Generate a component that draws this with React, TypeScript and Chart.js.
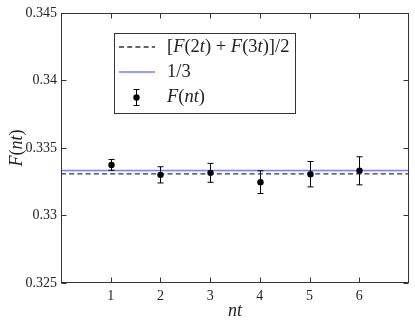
import React, { useEffect, useRef } from "react";
import { Chart, registerables } from "chart.js";

Chart.register(...registerables);

// ---- data ----
const nt = [1, 2, 3, 4, 5, 6];
const F = [0.33375, 0.33301, 0.33316, 0.33247, 0.33306, 0.33331];
const Ferr = [0.0004, 0.0006, 0.0007, 0.00084, 0.00094, 0.00104];
const avgValue = 0.333085; // [F(2t)+F(3t)]/2
const thirdValue = 1 / 3;
const xRange = [0, 7];
const yRange = [0.325, 0.345];
const xTicks = [1, 2, 3, 4, 5, 6];
const yTicks = [0.325, 0.33, 0.335, 0.34, 0.345];

const SERIF = "'Liberation Serif', 'DejaVu Serif', serif";
const TEXT = "#222";

type Seg = { t: string; it?: boolean };

function drawSegs(ctx: CanvasRenderingContext2D, segs: Seg[], x: number, y: number, size: number) {
  let cx = x;
  for (const s of segs) {
    ctx.font = `${s.it ? "italic " : ""}${size}px ${SERIF}`;
    ctx.fillText(s.t, cx, y);
    cx += ctx.measureText(s.t).width;
  }
  return cx;
}
function segsWidth(ctx: CanvasRenderingContext2D, segs: Seg[], size: number) {
  let w = 0;
  for (const s of segs) {
    ctx.font = `${s.it ? "italic " : ""}${size}px ${SERIF}`;
    w += ctx.measureText(s.t).width;
  }
  return w;
}

const decorPlugin = {
  id: "decor",
  afterDatasetsDraw(chart: any) {
    const ctx: CanvasRenderingContext2D = chart.ctx;
    const xs = chart.scales.x;
    const ys = chart.scales.y;
    const a = chart.chartArea;
    ctx.save();

    // error bars + markers
    ctx.strokeStyle = "#000";
    ctx.fillStyle = "#000";
    ctx.lineWidth = 1;
    for (let i = 0; i < nt.length; i++) {
      const px = Math.round(xs.getPixelForValue(nt[i])) + 0.5;
      const top = ys.getPixelForValue(F[i] + Ferr[i]);
      const bot = ys.getPixelForValue(F[i] - Ferr[i]);
      ctx.beginPath();
      ctx.moveTo(px, top);
      ctx.lineTo(px, bot);
      ctx.moveTo(px - 3, top);
      ctx.lineTo(px + 3, top);
      ctx.moveTo(px - 3, bot);
      ctx.lineTo(px + 3, bot);
      ctx.stroke();
      ctx.beginPath();
      ctx.arc(px, ys.getPixelForValue(F[i]), 3.2, 0, Math.PI * 2);
      ctx.fill();
    }

    // frame
    ctx.strokeStyle = "#333";
    ctx.lineWidth = 1;
    const L = Math.round(a.left) + 0.5, R = Math.round(a.right) - 0.5;
    const T = Math.round(a.top) + 0.5, B = Math.round(a.bottom) - 0.5;
    ctx.strokeRect(L, T, R - L, B - T);
    // ticks inward on all sides
    ctx.beginPath();
    for (const v of xTicks) {
      const px = Math.round(xs.getPixelForValue(v)) + 0.5;
      ctx.moveTo(px, B); ctx.lineTo(px, B - 5);
      ctx.moveTo(px, T); ctx.lineTo(px, T + 5);
    }
    for (const v of yTicks) {
      const py = Math.round(ys.getPixelForValue(v)) + 0.5;
      ctx.moveTo(L, py); ctx.lineTo(L + 5, py);
      ctx.moveTo(R, py); ctx.lineTo(R - 5, py);
    }
    ctx.stroke();

    // axis titles
    ctx.fillStyle = TEXT;
    ctx.textBaseline = "middle";
    const ySegs: Seg[] = [{ t: "F", it: true }, { t: "(" }, { t: "nt", it: true }, { t: ")" }];
    ctx.save();
    ctx.translate(17, (a.top + a.bottom) / 2);
    ctx.rotate(-Math.PI / 2);
    const yw = segsWidth(ctx, ySegs, 18);
    drawSegs(ctx, ySegs, -yw / 2, 0, 18);
    ctx.restore();
    const xSegs: Seg[] = [{ t: "nt", it: true }];
    const xw = segsWidth(ctx, xSegs, 18);
    drawSegs(ctx, xSegs, (a.left + a.right) / 2 - xw / 2, 311, 18);

    // legend
    const bx = 114.5, by = 33.5, bw = 181, bh = 80;
    ctx.fillStyle = "#fff";
    ctx.fillRect(bx, by, bw, bh);
    ctx.strokeStyle = "#333";
    ctx.lineWidth = 1;
    ctx.strokeRect(bx, by, bw, bh);
    const rows = [47, 72, 97.5];
    // row 1 dashed
    ctx.strokeStyle = "#333";
    ctx.lineWidth = 1.4;
    ctx.setLineDash([5, 3.2]);
    ctx.beginPath(); ctx.moveTo(119, rows[0]); ctx.lineTo(155, rows[0]); ctx.stroke();
    ctx.setLineDash([]);
    // row 2 blue
    ctx.strokeStyle = "#7b7bff";
    ctx.lineWidth = 1.6;
    ctx.beginPath(); ctx.moveTo(119, rows[1]); ctx.lineTo(155, rows[1]); ctx.stroke();
    // row 3 errorbar marker
    ctx.strokeStyle = "#000";
    ctx.fillStyle = "#000";
    ctx.lineWidth = 1;
    ctx.beginPath();
    ctx.moveTo(136.5, rows[2] - 8); ctx.lineTo(136.5, rows[2] + 8);
    ctx.moveTo(133.5, rows[2] - 8); ctx.lineTo(139.5, rows[2] - 8);
    ctx.moveTo(133.5, rows[2] + 8); ctx.lineTo(139.5, rows[2] + 8);
    ctx.stroke();
    ctx.beginPath(); ctx.arc(136.5, rows[2], 3.2, 0, Math.PI * 2); ctx.fill();

    ctx.fillStyle = TEXT;
    const fs = 18.5;
    drawSegs(ctx, [
      { t: "[" }, { t: "F", it: true }, { t: "(2" }, { t: "t", it: true }, { t: ") + " },
      { t: "F", it: true }, { t: "(3" }, { t: "t", it: true }, { t: ")]/2" },
    ], 167, rows[0], fs);
    drawSegs(ctx, [{ t: "1/3" }], 167, rows[1], fs);
    drawSegs(ctx, [{ t: "F", it: true }, { t: "(" }, { t: "nt", it: true }, { t: ")" }], 167, rows[2], fs);

    ctx.restore();
  },
};

export default function App() {
  const ref = useRef<HTMLCanvasElement | null>(null);
  useEffect(() => {
    if (!ref.current) return;
    const chart = new Chart(ref.current, {
      type: "scatter",
      data: {
        datasets: [
          {
            type: "line",
            label: "[F(2t)+F(3t)]/2",
            data: [{ x: xRange[0], y: avgValue }, { x: xRange[1], y: avgValue }],
            borderColor: "#333",
            borderWidth: 1.4,
            borderDash: [5, 3.2],
            pointRadius: 0,
            fill: false,
          },
          {
            type: "line",
            label: "1/3",
            data: [{ x: xRange[0], y: thirdValue }, { x: xRange[1], y: thirdValue }],
            borderColor: "#7b7bff",
            borderWidth: 1.6,
            pointRadius: 0,
            fill: false,
          },
        ],
      },
      options: {
        animation: false,
        responsive: false,
        devicePixelRatio: 1,
        layout: { padding: { top: 13, right: 6, left: 0, bottom: 0 } },
        plugins: { legend: { display: false }, tooltip: { enabled: false } },
        scales: {
          x: {
            type: "linear",
            min: xRange[0],
            max: xRange[1],
            grid: { display: false, drawTicks: false },
            border: { display: false },
            afterBuildTicks: (s: any) => { s.ticks = xTicks.map((v) => ({ value: v })); },
            afterFit: (s: any) => { s.height = 43; },
            ticks: {
              padding: 5,
              color: TEXT,
              font: { family: SERIF, size: 14 },
              maxRotation: 0,
              callback: (v: any) => String(v),
            },
          },
          y: {
            type: "linear",
            min: yRange[0],
            max: yRange[1],
            grid: { display: false, drawTicks: false },
            border: { display: false },
            afterBuildTicks: (s: any) => { s.ticks = yTicks.map((v) => ({ value: v })); },
            afterFit: (s: any) => { s.width = 61; },
            ticks: {
              padding: 4,
              color: TEXT,
              font: { family: SERIF, size: 14 },
              callback: (v: any) => String(+Number(v).toFixed(3)),
            },
          },
        },
      },
      plugins: [decorPlugin],
    } as any);
    return () => chart.destroy();
  }, []);
  return (
    <div style={{ position: "absolute", left: 0, top: 0, width: 415, height: 326, background: "#fff" }}>
      <canvas ref={ref} width={415} height={326} />
    </div>
  );
}
